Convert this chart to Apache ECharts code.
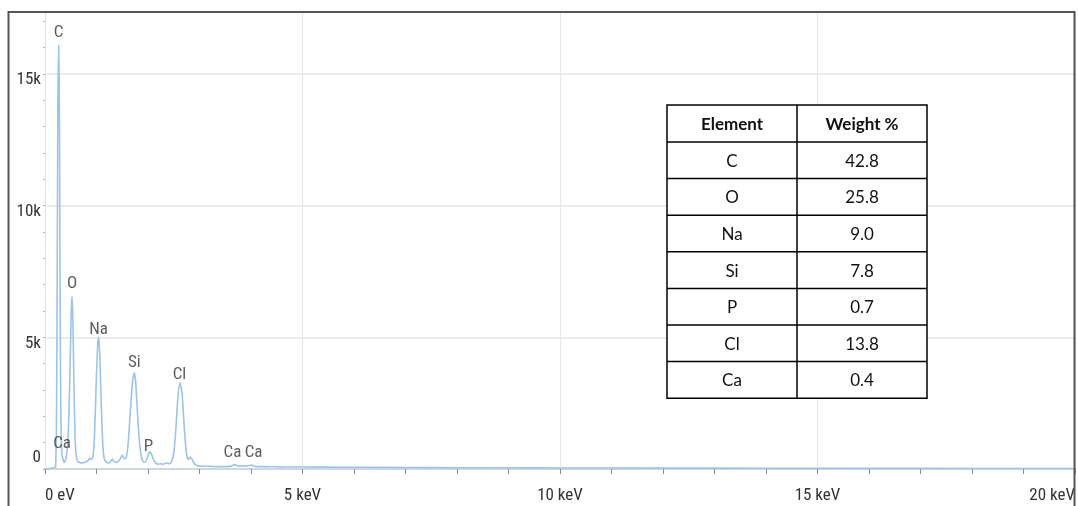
<!DOCTYPE html>
<html>
<head>
<meta charset="utf-8">
<style>
  html, body { margin: 0; padding: 0; background: #fff; }
  #chart { width: 1078px; height: 506px; }
</style>
<script src="https://cdn.jsdelivr.net/npm/echarts@6/dist/echarts.min.js"></script>
</head>
<body>
<div id="chart"></div>
<script>
// ---- Spectrum data (energy in keV, counts) ----
const energyKeV = [
  0, 0.05, 0.10, 0.15, 0.20, 0.21, 0.22, 0.23, 0.24, 0.25, 0.265, 0.28, 0.29, 0.30, 0.31, 0.32, 0.33, 0.345, 0.36, 0.38,
  0.40, 0.43, 0.46, 0.49, 0.51, 0.525, 0.54, 0.56, 0.58, 0.60, 0.63, 0.67, 0.72, 0.78, 0.83, 0.87, 0.90, 0.93, 0.96, 0.99,
  1.02, 1.04, 1.06, 1.09, 1.12, 1.15, 1.20, 1.25, 1.31, 1.35, 1.40, 1.46, 1.50, 1.54, 1.58, 1.62, 1.66, 1.70, 1.735, 1.76,
  1.80, 1.84, 1.88, 1.92, 1.96, 2.00, 2.03, 2.07, 2.11, 2.15, 2.20, 2.25, 2.30, 2.35, 2.40, 2.45, 2.50, 2.54, 2.58, 2.62,
  2.66, 2.70, 2.74, 2.78, 2.82, 2.86, 2.90, 2.95, 3.00, 3.20, 3.40, 3.60, 3.69, 3.75, 3.85, 3.92, 4.01, 4.08, 4.30, 4.60,
  5.0, 5.5, 6.0, 7.0, 8.0, 9.0, 10.0, 12.0, 14.0, 16.0, 18.0, 20.0
];
const counts = [
  0, 10, 20, 40, 60, 300, 1200, 4200, 9000, 13800, 16100, 13500, 8200, 4000, 1800, 900, 550, 400, 300, 260,
  350, 700, 1800, 4200, 6000, 6550, 5800, 3500, 1500, 600, 300, 250, 230, 260, 300, 420, 350, 450, 1200, 3000,
  4600, 5000, 4500, 2600, 1000, 400, 250, 230, 380, 260, 250, 380, 520, 380, 450, 1100, 2300, 3300, 3650, 3300,
  2000, 900, 400, 250, 300, 500, 650, 550, 350, 230, 180, 200, 180, 230, 200, 250, 600, 1500, 2700, 3270,
  2900, 1700, 700, 350, 450, 350, 200, 130, 110, 100, 90, 100, 170, 110, 120, 110, 150, 100, 90, 80,
  75, 70, 65, 55, 50, 45, 40, 35, 30, 25, 20, 20
];

// ---- Peak labels ----
const peakNames = ['C', 'Ca', 'O', 'Na', 'Si', 'P', 'Cl', 'Ca', 'Ca'];
const peakLabelKeV = [0.263, 0.331, 0.525, 1.04, 1.735, 2.01, 2.61, 3.64, 4.05];
const peakLabelCounts = [16580, 950, 7030, 5280, 4030, 840, 3570, 610, 610];

// ---- Table ----
const tableHeader = ['Element', 'Weight %'];
const tableElements = ['C', 'O', 'Na', 'Si', 'P', 'Cl', 'Ca'];
const tableWeights = ['42.8', '25.8', '9.0', '7.8', '0.7', '13.8', '0.4'];

// ---- Axis range / ticks ----
const xTicks = [0, 5, 10, 15, 20];
const yTicks = [0, 5000, 10000, 15000];
const yMax = 17350;

const spectrum = energyKeV.map((e, i) => [e, counts[i]]);
const peakData = peakNames.map((n, i) => ({ name: n, value: [peakLabelKeV[i], peakLabelCounts[i]] }));

const FONT = '"Liberation Sans Narrow", "Roboto Condensed", "DejaVu Sans Condensed", "Liberation Sans", sans-serif';
const FS = 17;
const TFONT = 'Lato, "Open Sans", sans-serif';

// table graphics
const tLeft = 667, tTop = 105, colX = [667, 797, 927], headH = 37, rowH = 36.6;
const tableGraphics = [];
const nRows = tableElements.length;
const tBottom = tTop + headH + nRows * rowH;
tableGraphics.push({ type: 'rect', shape: { x: tLeft, y: tTop, width: colX[2] - tLeft, height: tBottom - tTop },
  style: { fill: '#fff', stroke: '#000', lineWidth: 1.5 }, z: 50 });
tableGraphics.push({ type: 'line', shape: { x1: colX[1], y1: tTop, x2: colX[1], y2: tBottom },
  style: { stroke: '#000', lineWidth: 1.5 }, z: 51 });
for (let r = 0; r < nRows; r++) {
  const y = tTop + headH + r * rowH;
  tableGraphics.push({ type: 'line', shape: { x1: tLeft, y1: y, x2: colX[2], y2: y },
    style: { stroke: '#000', lineWidth: 1.5 }, z: 51 });
}
const cellCenters = [(colX[0] + colX[1]) / 2, (colX[1] + colX[2]) / 2];
tableHeader.forEach((h, c) => {
  tableGraphics.push({ type: 'text', x: cellCenters[c], y: tTop + headH / 2 + 1, z: 52,
    style: { text: h, fill: '#111', font: 'bold 17px ' + TFONT, align: 'center', verticalAlign: 'middle' } });
});
tableElements.forEach((el, r) => {
  const cy = tTop + headH + r * rowH + rowH / 2 + 1;
  tableGraphics.push({ type: 'text', x: cellCenters[0], y: cy, z: 52,
    style: { text: el, fill: '#111', font: '17px ' + TFONT, align: 'center', verticalAlign: 'middle' } });
  tableGraphics.push({ type: 'text', x: cellCenters[1], y: cy, z: 52,
    style: { text: tableWeights[r], fill: '#111', font: '17px ' + TFONT, align: 'center', verticalAlign: 'middle' } });
});

const chart = echarts.init(document.getElementById('chart'), null, { renderer: 'canvas' });
const option = {
  backgroundColor: '#fff',
  animation: false,
  grid: { left: 45, right: 3, top: 12, bottom: 37, containLabel: false },
  xAxis: {
    type: 'value', min: xTicks[0], max: xTicks[xTicks.length - 1], interval: 5,
    axisLine: { show: true, lineStyle: { color: '#c3d1de', width: 1.5 } },
    axisTick: { show: true, length: 5, lineStyle: { color: '#8a8a8a' } },
    minorTick: { show: true, splitNumber: 5, length: 5, lineStyle: { color: '#8a8a8a' } },
    splitLine: { show: true, lineStyle: { color: '#e6e6e6', width: 1 } },
    axisLabel: {
      color: '#333', fontFamily: FONT, fontSize: FS, margin: 18,
      alignMinLabel: 'left', alignMaxLabel: 'right',
      formatter: v => (v === 0 ? '0 eV' : v + ' keV')
    }
  },
  yAxis: {
    type: 'value', min: yTicks[0], max: yMax, interval: 5000,
    axisLine: { show: true, lineStyle: { color: '#e4e4e4', width: 1 } },
    axisTick: { show: true, length: 2, lineStyle: { color: '#aaa' } },
    minorTick: { show: true, splitNumber: 5, length: 2, lineStyle: { color: '#b5b5b5' } },
    splitLine: { show: true, lineStyle: { color: '#e6e6e6', width: 1.5 } },
    axisLabel: {
      color: '#333', fontFamily: FONT, fontSize: FS, margin: 4, showMaxLabel: false,
      formatter: v => (v === 0 ? '{z|0}' : (v % 5000 === 0 ? '{n|' + (v / 1000) + 'k}' : '')),
      rich: {
        n: { fontFamily: FONT, fontSize: FS, color: '#333', padding: [12, 0, 0, 0] },
        z: { fontFamily: FONT, fontSize: FS, color: '#333', padding: [0, 0, 22, 0] }
      }
    }
  },
  series: [
    {
      type: 'line', data: spectrum, showSymbol: false, smooth: 0.2,
      lineStyle: { color: '#9dc3e6', width: 1.6 }, z: 3
    },
    {
      type: 'scatter', data: peakData, symbolSize: 0, z: 4,
      label: { show: true, position: 'inside', formatter: '{b}', color: '#333', fontFamily: FONT, fontSize: FS }
    }
  ],
  graphic: [
    { type: 'rect', shape: { x: 0, y: 0, width: 1078, height: 11 }, style: { fill: '#fff' }, z: 100 },
    { type: 'rect', shape: { x: 8.5, y: 12, width: 1066, height: 600 }, style: { fill: 'none', stroke: '#555', lineWidth: 2 }, z: 101 },
    ...tableGraphics
  ]
};
chart.setOption(option);
</script>
</body>
</html>
